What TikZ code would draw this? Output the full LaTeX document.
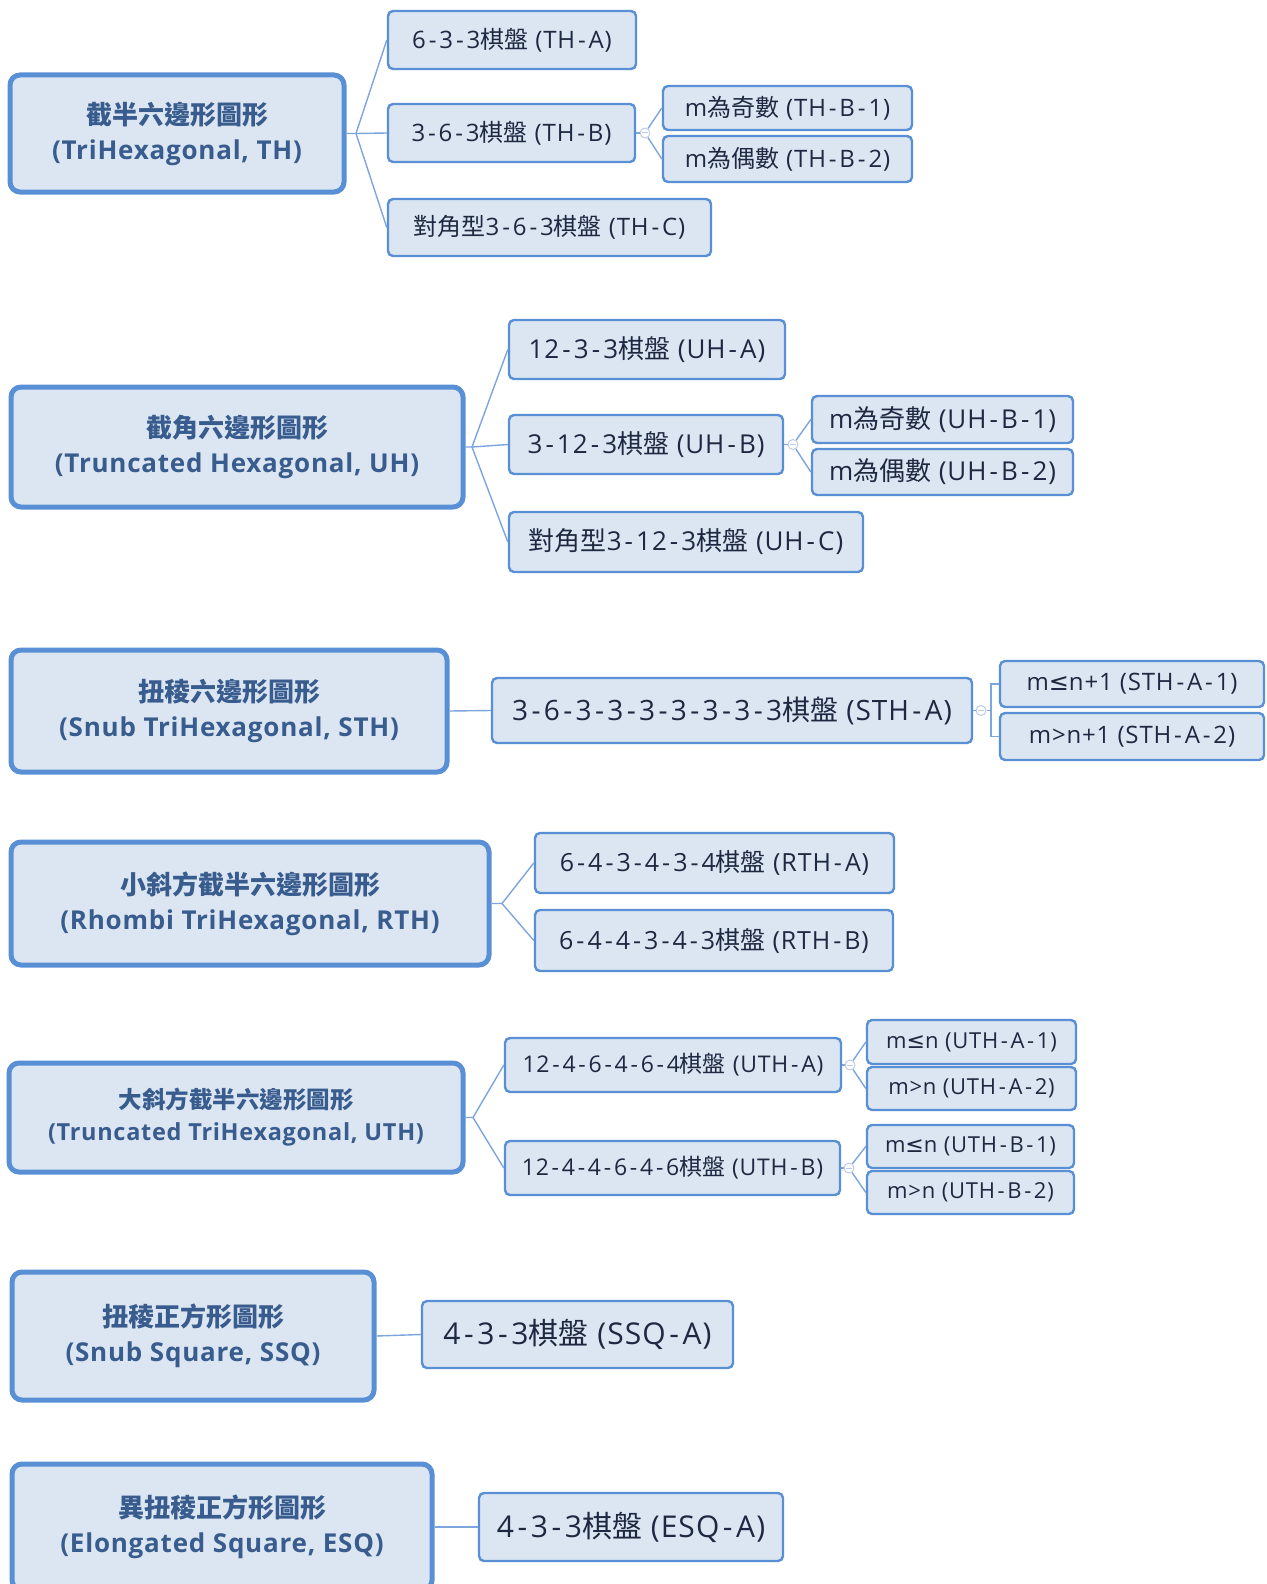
\documentclass[tikz,border=0pt]{standalone}
\usepackage{fontspec}
\setmainfont{Open Sans}[UprightFeatures={LetterSpace=3.5}, BoldFeatures={LetterSpace=3}]
\newfontfamily\cjkfont{Noto Sans CJK TC}
\newfontfamily\symfont{DejaVu Sans}
\newcommand\zh[1]{{\cjkfont #1}}
\newcommand\myle{{\symfont ≤}}
\newcommand\hy{\kern0.12em-\kern0.12em}
\definecolor{bord}{RGB}{88,143,213}
\definecolor{fillc}{RGB}{220,230,242}
\definecolor{linec}{RGB}{125,165,222}
\definecolor{foldc}{RGB}{190,204,232}
\definecolor{roottxt}{RGB}{56,92,142}
\definecolor{childtxt}{RGB}{30,40,64}
\tikzset{
  child/.style={draw=bord, fill=fillc, rounded corners=5pt, line width=2.4pt, inner sep=0pt, align=center, text=childtxt},
  rootbox/.style={draw=bord, fill=fillc, rounded corners=10pt, line width=5pt, inner sep=0pt, align=center, text=roottxt, font=\fontsize{26}{35}\selectfont\bfseries},
  rootsmall/.style={rootbox, font=\fontsize{23.5}{32}\selectfont\bfseries},
  fa/.style={font=\fontsize{22}{26}\selectfont},
  fb/.style={font=\fontsize{23}{27}\selectfont},
  fc/.style={font=\fontsize{24}{28}\selectfont},
  fd/.style={font=\fontsize{25}{29}\selectfont},
  fe/.style={font=\fontsize{26}{30}\selectfont},
  ff/.style={font=\fontsize{28}{32}\selectfont},
  fg/.style={font=\fontsize{30}{34}\selectfont},
  conn/.style={draw=linec, line width=1.4pt},
  fold/.style={circle, draw=foldc, fill=white, line width=1pt, minimum size=10pt, inner sep=0pt,
    path picture={\draw[foldc, line width=1pt] ([xshift=-3pt]path picture bounding box.center) -- ([xshift=3pt]path picture bounding box.center);}},
}
\newcommand\mybox[7]{\node[#6, minimum width={(#4)-(#2)}, minimum height={(#5)-(#3)}] (#1) at ({((#2)+(#4))/2},{((#3)+(#5))/2}) {#7};}
\begin{document}
\begin{tikzpicture}[x=1pt, y=-1pt]
\useasboundingbox (0,0) rectangle (1266,1584);
\clip (0,0) rectangle (1266,1584);
\fill[white] (0,0) rectangle (1266,1584);

% TH
\mybox{th}{10}{75}{344}{192}{rootbox}{\zh{截半六邊形圖形}\\(TriHexagonal, TH)}
\mybox{tha}{388}{11}{636}{69}{child,fc}{6\hy3\hy3\zh{棋盤} (TH\hy A)}
\mybox{thb}{388}{104}{635}{162}{child,fc}{3\hy6\hy3\zh{棋盤} (TH\hy B)}
\mybox{thbi}{663}{86}{912}{130}{child,fc}{m\zh{為奇數} (TH\hy B\hy 1)}
\mybox{thbii}{663}{136}{912}{182}{child,fc}{m\zh{為偶數} (TH\hy B\hy 2)}
\mybox{thc}{388}{199}{711}{256}{child,fc}{\zh{對角型}3\hy6\hy3\zh{棋盤} (TH\hy C)}
\coordinate (thf) at (356,133.5);
\node[fold] (thbo) at (645,133) {};
\draw[conn] (th.east) -- (thf) -- (tha.west);
\draw[conn] (thf) -- (thb.west);
\draw[conn] (thf) -- (thc.west);
\draw[conn] (thb.east) -- (thbo);
\draw[conn] (thbo) -- (thbi.west);
\draw[conn] (thbo) -- (thbii.west);

% UH
\mybox{uh}{11}{387}{463}{507}{rootbox}{\zh{截角六邊形圖形}\\(Truncated Hexagonal, UH)}
\mybox{uha}{509}{320}{785}{379}{child,fe}{12\hy3\hy3\zh{棋盤} (UH\hy A)}
\mybox{uhb}{509}{415}{783}{474}{child,fe}{3\hy12\hy3\zh{棋盤} (UH\hy B)}
\mybox{uhbi}{812}{396}{1073}{443}{child,fe}{m\zh{為奇數} (UH\hy B\hy 1)}
\mybox{uhbii}{812}{449}{1073}{495}{child,fe}{m\zh{為偶數} (UH\hy B\hy 2)}
\mybox{uhc}{509}{512}{863}{572}{child,fe}{\zh{對角型}3\hy12\hy3\zh{棋盤} (UH\hy C)}
\coordinate (uhf) at (472,447);
\node[fold] (uhbo) at (793,444.5) {};
\draw[conn] (uh.east) -- (uhf) -- (uha.west);
\draw[conn] (uhf) -- (uhb.west);
\draw[conn] (uhf) -- (uhc.west);
\draw[conn] (uhb.east) -- (uhbo);
\draw[conn] (uhbo) -- (uhbi.west);
\draw[conn] (uhbo) -- (uhbii.west);

% STH
\mybox{sth}{11}{650}{447}{772}{rootbox}{\zh{扭稜六邊形圖形}\\(Snub TriHexagonal, STH)}
\mybox{stha}{492}{678}{972}{743}{child,ff}{3\hy6\hy3\hy3\hy3\hy3\hy3\hy3\hy3\zh{棋盤} (STH\hy A)}
\mybox{sthai}{1000}{661}{1264}{707}{child,fc}{m\myle n+1 (STH\hy A\hy 1)}
\mybox{sthaii}{1000}{713}{1264}{760}{child,fc}{m>n+1 (STH\hy A\hy 2)}
\node[fold] (sthao) at (981,710.5) {};
\coordinate (sthe) at (991,710.5);
\draw[conn] (sth.east) -- (stha.west);
\draw[conn] (stha.east) -- (sthao);
\draw[conn] (sthao) -- (sthe) |- (sthai.west);
\draw[conn] (sthe) |- (sthaii.west);

% RTH
\mybox{rth}{11}{842}{489}{965}{rootbox}{\zh{小斜方截半六邊形圖形}\\(Rhombi TriHexagonal, RTH)}
\mybox{rtha}{535}{833}{894}{893}{child,fd}{6\hy4\hy3\hy4\hy3\hy4\zh{棋盤} (RTH\hy A)}
\mybox{rthb}{535}{910}{893}{971}{child,fd}{6\hy4\hy4\hy3\hy4\hy3\zh{棋盤} (RTH\hy B)}
\coordinate (rthf) at (502,903.5);
\draw[conn] (rth.east) -- (rthf) -- (rtha.west);
\draw[conn] (rthf) -- (rthb.west);

% UTH
\mybox{uth}{9}{1063}{463}{1172}{rootsmall}{\zh{大斜方截半六邊形圖形}\\(Truncated TriHexagonal, UTH)}
\mybox{utha}{505}{1038}{841}{1092}{child,fb}{12\hy4\hy6\hy4\hy6\hy4\zh{棋盤} (UTH\hy A)}
\mybox{uthb}{505}{1141}{840}{1195}{child,fb}{12\hy4\hy4\hy6\hy4\hy6\zh{棋盤} (UTH\hy B)}
\mybox{uthai}{867}{1020}{1076}{1064}{child,fa}{m\myle n (UTH\hy A\hy 1)}
\mybox{uthaii}{867}{1067}{1076}{1110}{child,fa}{m>n (UTH\hy A\hy 2)}
\mybox{uthbi}{867}{1125}{1074}{1168}{child,fa}{m\myle n (UTH\hy B\hy 1)}
\mybox{uthbii}{867}{1171}{1074}{1214}{child,fa}{m>n (UTH\hy B\hy 2)}
\coordinate (uthf) at (473,1117.5);
\node[fold] (uthao) at (850,1065) {};
\node[fold] (uthbo) at (849,1168) {};
\draw[conn] (uth.east) -- (uthf) -- (utha.west);
\draw[conn] (uthf) -- (uthb.west);
\draw[conn] (utha.east) -- (uthao);
\draw[conn] (uthao) -- (uthai.west);
\draw[conn] (uthao) -- (uthaii.west);
\draw[conn] (uthb.east) -- (uthbo);
\draw[conn] (uthbo) -- (uthbi.west);
\draw[conn] (uthbo) -- (uthbii.west);

% SSQ
\mybox{ssq}{12}{1272}{374}{1400}{rootbox}{\zh{扭稜正方形圖形}\\(Snub Square, SSQ)}
\mybox{ssqa}{422}{1301}{733}{1368}{child,fg}{4\hy3\hy3\zh{棋盤} (SSQ\hy A)}
\draw[conn] (ssq.east) -- (ssqa.west);

% ESQ
\mybox{esq}{12}{1464}{432}{1590}{rootbox}{\zh{異扭稜正方形圖形}\\(Elongated Square, ESQ)}
\mybox{esqa}{479}{1493}{783}{1561}{child,fg}{4\hy3\hy3\zh{棋盤} (ESQ\hy A)}
\draw[conn] (esq.east) -- (esqa.west);
\end{tikzpicture}
\end{document}
